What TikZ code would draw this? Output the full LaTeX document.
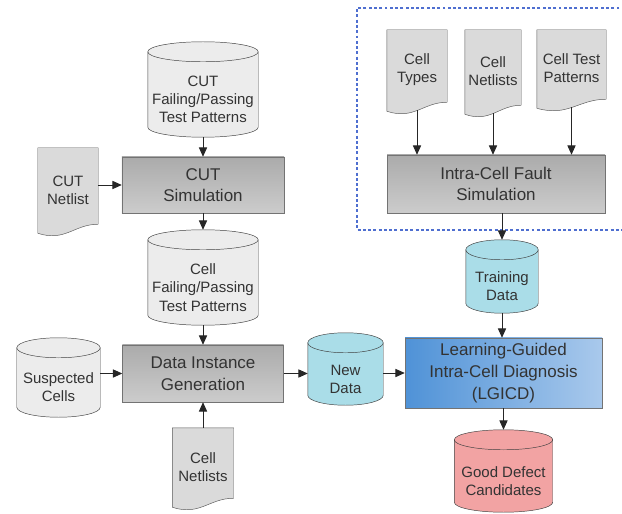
\documentclass[tikz,border=0pt]{standalone}
\usepackage{fontspec}
\setmainfont{Liberation Sans}
\usetikzlibrary{calc,arrows.meta,backgrounds}

\definecolor{txtgray}{HTML}{333333}
\definecolor{cylgray}{HTML}{ECECEC}
\definecolor{docgray}{HTML}{DADADA}
\definecolor{cylcyan}{HTML}{AADDE8}
\definecolor{cylred}{HTML}{F2A3A3}
\definecolor{lgblueL}{HTML}{4F92D7}
\definecolor{lgblueR}{HTML}{A9C9EC}
\definecolor{frameblue}{HTML}{4F6FD0}

% document sheet with a wavy lower edge, drawn behind a node
\newcommand{\docpage}[1]{%
  \draw[docline] (#1.north west) -- (#1.north east) -- ($(#1.south east)+(0,-8)$)
    .. controls ($(#1.south west)!0.6!(#1.south east)+(0,-8)$)
    and ($(#1.south west)!0.45!(#1.south east)+(0,10)$) .. ($(#1.south west)+(0,1)$) -- cycle;}

% drum (data store) round a node whose box is the body under the top lid
\newcommand{\drum}[2]{%
  \draw[drumline, fill=#2] let \p1=($(#1.east)-(#1.west)$) in
    ($(#1.north west)+(0,-10)$) -- ($(#1.south west)+(0,-10)$)
    arc[start angle=180, end angle=360, x radius=0.5*\x1, y radius=0.3cm]
    -- ($(#1.north east)+(0,-10)$)
    arc[start angle=0, end angle=180, x radius=0.5*\x1, y radius=0.3cm] -- cycle;
  \draw[drumline] let \p1=($(#1.east)-(#1.west)$) in
    ($(#1.north west)+(0,-10)$)
    arc[start angle=180, end angle=360, x radius=0.5*\x1, y radius=0.3cm];
  \coordinate (#1-top) at ($(#1.north)+(0,-20)$);}

\begin{document}
\begin{tikzpicture}[x=0.03cm,y=-0.03cm,
  >={Triangle[length=8pt,width=7pt]},
  process/.style=
  {rectangle, draw=black!55, top color=black!33, bottom color=black!20,
    text=txtgray, align=center, font=\fontsize{14.5}{18.5}\selectfont},
  lgicdbox/.style=
  {rectangle, draw=black!55, left color=lgblueL, right color=lgblueR,
    text=txtgray, align=center, font=\fontsize{14.5}{18.5}\selectfont},
  store/.style={rectangle, inner sep=0pt, text=txtgray, align=center,
    font=\fontsize{12.8}{15.5}\selectfont},
  doc/.style={inner sep=0pt, text=txtgray, align=center,
    font=\fontsize{12.8}{15.5}\selectfont},
  drumline/.style={draw=black!75},
  docline/.style={draw=black!65, fill=docgray},
  link/.style={->, draw=black!85, line width=0.8pt},
  frame/.style={draw=frameblue, line width=0.9pt, dash pattern=on 2.5pt off 2pt}]
\useasboundingbox (0,0) rectangle (622,514);

% left column
\node [store, minimum width=3.3cm, minimum height=2.25cm] (cutPat) at (203,99.5) {CUT\\Failing/Passing\\Test Patterns};
\node [process, minimum width=4.86cm, minimum height=1.68cm] (cutSim) at (203,185) {CUT\\Simulation};
\node [doc, minimum width=1.8cm, minimum height=2.52cm] (cutNet) at (68,190) {CUT\\Netlist};
\node [store, minimum width=3.3cm, minimum height=2.25cm] (cellPat) at (203,287.5) {Cell\\Failing/Passing\\Test Patterns};
\node [process, minimum width=4.83cm, minimum height=1.71cm] (dataGen) at (203,373.5) {Data Instance\\Generation};
\node [store, minimum width=2.49cm, minimum height=1.77cm] (suspCells) at (58.5,387.5) {Suspected\\Cells};
\node [doc, minimum width=1.83cm, minimum height=2.34cm] (cellNetB) at (203,467) {Cell\\Netlists};

% right column
\node [doc, minimum width=1.8cm, minimum height=2.4cm] (cellTypes) at (417,70) {Cell\\Types};
\node [doc, minimum width=1.68cm, minimum height=2.49cm] (cellNetT) at (493,71.5) {Cell\\Netlists};
\node [doc, minimum width=2.07cm, minimum height=2.31cm] (cellTest) at (571.5,68.5) {Cell Test\\Patterns};
\node [process, minimum width=6.54cm, minimum height=1.74cm] (intraSim) at (496,184) {Intra-Cell Fault\\Simulation};
\node [store, minimum width=2.16cm, minimum height=1.59cm] (trainData) at (502,286.5) {Training\\Data};
\node [lgicdbox, minimum width=5.91cm, minimum height=2.1cm] (lgicd) at (503.5,373) {Learning-Guided\\Intra-Cell Diagnosis\\(LGICD)};
\node [store, minimum width=2.25cm, minimum height=1.56cm] (newData) at (345.5,379) {New\\Data};
\node [store, minimum width=2.94cm, minimum height=1.86cm] (goodCand) at (503.5,481) {Good Defect\\Candidates};

\begin{scope}[on background layer]
\drum{cutPat}{cylgray}
\drum{cellPat}{cylgray}
\drum{suspCells}{cylgray}
\drum{trainData}{cylcyan}
\drum{newData}{cylcyan}
\drum{goodCand}{cylred}
\docpage{cutNet}
\docpage{cellNetB}
\docpage{cellTypes}
\docpage{cellNetT}
\docpage{cellTest}
\end{scope}

\draw [frame] (630,8) -- (357,8) -- (357,230) -- (630,230);

\draw [link] (cutPat.south) -- (cutPat.south |- cutSim.north);
\draw [link] (cutNet.east |- cutSim) -- (cutSim.west);
\draw [link] (cutSim.south) -- (cellPat-top);
\draw [link] (cellPat.south) -- (cellPat.south |- dataGen.north);
\draw [link] (suspCells.east |- dataGen) -- (dataGen.west);
\draw [link] (cellNetB.north) -- (cellNetB.north |- dataGen.south);
\draw [link] (dataGen.east) -- (dataGen.east -| newData.west);
\draw [link] (newData.east |- lgicd) -- (lgicd.west);
\draw [link] (cellTypes.south) -- (cellTypes.south |- intraSim.north);
\draw [link] (cellNetT.south) -- (cellNetT.south |- intraSim.north);
\draw [link] (cellTest.south) -- (cellTest.south |- intraSim.north);
\draw [link] (trainData |- intraSim.south) -- (trainData-top);
\draw [link] (trainData.south) -- (trainData.south |- lgicd.north);
\draw [link] (lgicd.south) -- (goodCand-top);

\end{tikzpicture}
\end{document}
